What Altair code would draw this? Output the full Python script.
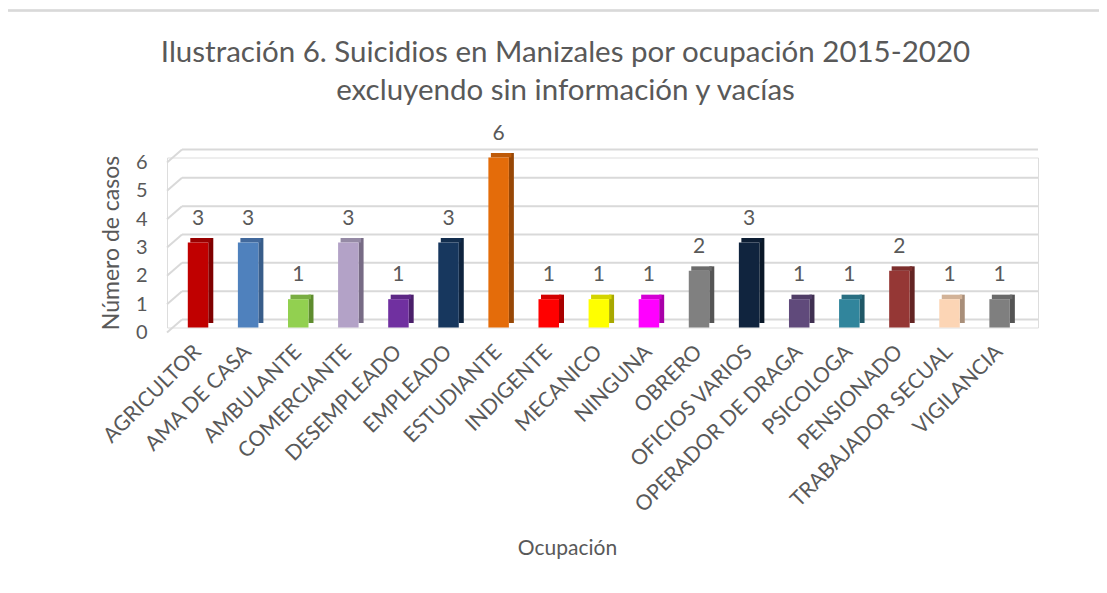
import altair as alt
import pandas as pd

categorias = ["AGRICULTOR", "AMA DE CASA", "AMBULANTE", "COMERCIANTE", "DESEMPLEADO",
              "EMPLEADO", "ESTUDIANTE", "INDIGENTE", "MECANICO", "NINGUNA", "OBRERO",
              "OFICIOS VARIOS", "OPERADOR DE DRAGA", "PSICOLOGA", "PENSIONADO",
              "TRABAJADOR SECUAL", "VIGILANCIA"]
casos = [3, 3, 1, 3, 1, 3, 6, 1, 1, 1, 2, 3, 1, 1, 2, 1, 1]
colores_frente = ["#C00000", "#4F81BD", "#92D050", "#B3A2C7", "#7030A0", "#17375E",
                  "#E46C0A", "#FF0000", "#FFFF00", "#FF00FF", "#808080", "#10243E",
                  "#604A7B", "#31859C", "#953735", "#FCD5B5", "#7F7F7F"]
colores_lado = ["#7F0000", "#385D8A", "#5E8C2E", "#776B85", "#4A1F6A", "#0F243E",
                "#974706", "#A80000", "#A8A800", "#A800A8", "#555555", "#0A1828",
                "#3F3051", "#205867", "#632423", "#A88E79", "#545454"]
colores_arriba = ["#9A0000", "#42699C", "#79AD42", "#958AA5", "#5C2785", "#132E4E",
                  "#BE5A08", "#D40000", "#D4D400", "#D400D4", "#6B6B6B", "#0D1E34",
                  "#503D66", "#296F82", "#7C2E2C", "#D2B297", "#6A6A6A"]
ticks_y = [0, 1, 2, 3, 4, 5, 6]

titulo = ["Ilustración 6. Suicidios en Manizales por ocupación 2015-2020",
          "excluyendo sin información y vacías"]

df = pd.DataFrame({"ocupacion": categorias, "casos": casos})
df_ticks = pd.DataFrame({"v": ticks_y})

FONT = "Lato"
GRIS = "#595959"
W, H = 871, 170

xscale = alt.Scale(domain=categorias, paddingInner=0, paddingOuter=0.193, align=0.31)
yscale = alt.Scale(domain=[0, 6], nice=False)

x_axis = alt.Axis(title="Ocupación", labelAngle=-45, labelAlign="right",
                  labelBaseline="middle", labelPadding=21, ticks=False,
                  domain=False, grid=False, labelFont=FONT, labelFontSize=21,
                  labelLimit=400, labelColor=GRIS, labelOverlap=False, titleFont=FONT,
                  titleFontSize=21, titleColor=GRIS, titleFontWeight="normal",
                  titleX=400, titleY=221, titleBaseline="middle", titleAlign="center")
y_axis = alt.Axis(title="Número de casos", values=ticks_y, ticks=False,
                  domain=False, grid=False, labelPadding=20, labelOffset=5,
                  labelOverlap=False, labelFont=FONT, labelFontSize=20, labelColor=GRIS,
                  titleFont=FONT, titleFontSize=23, titleColor=GRIS,
                  titleFontWeight="normal", titleX=-56, titleY=H / 2,
                  titleBaseline="middle", titleAlign="center", titleAngle=-90)

x_enc = alt.X("ocupacion:N", sort=categorias, scale=xscale, axis=x_axis)
y_enc = alt.Y("casos:Q", scale=yscale, axis=y_axis)

base = alt.Chart(df)

grid = alt.Chart(df_ticks).mark_rule(color="#D9D9D9", strokeWidth=2, yOffset=-8).encode(
    y=alt.Y("v:Q", scale=yscale, axis=y_axis),
    x=alt.value(15), x2=alt.value(W),
)
diag = alt.Chart(df_ticks).mark_rule(color="#D9D9D9", strokeWidth=2, yOffset=5,
                                     y2Offset=-8).encode(
    y=alt.Y("v:Q", scale=yscale, axis=y_axis), y2="v:Q",
    x=alt.value(0), x2=alt.value(15),
)

lado = base.mark_bar(size=5, xOffset=12.75, yOffset=-4.5, y2Offset=-4.5).encode(
    x=x_enc, y=y_enc, y2=alt.datum(0),
    color=alt.Color("ocupacion:N", scale=alt.Scale(domain=categorias, range=colores_lado),
                    legend=None),
)
arriba = base.mark_bar(size=20.5, xOffset=2.5, y2Offset=-4.5).encode(
    x=x_enc, y=y_enc, y2="casos:Q",
    color=alt.Color("ocupacion:N", scale=alt.Scale(domain=categorias, range=colores_arriba),
                    legend=None),
)
frente = base.mark_bar(size=20.5).encode(
    x=x_enc, y=y_enc, y2=alt.datum(0),
    color=alt.Color("ocupacion:N", scale=alt.Scale(domain=categorias, range=colores_frente),
                    legend=None),
)
etiquetas = base.mark_text(font=FONT, fontSize=21, color=GRIS, dy=-18,
                           baseline="alphabetic").encode(
    x=x_enc, y=y_enc, text="casos:Q",
)

borde_sup = alt.Chart(df_ticks).mark_rule(color="#D9D9D9", strokeWidth=1.5).encode(
    x=alt.value(-161), x2=alt.value(W + 100), y=alt.value(-147))
borde_izq = alt.Chart(df_ticks).mark_rule(color="#D9D9D9", strokeWidth=1.5).encode(
    x=alt.value(-161), y=alt.value(-147), y2=alt.value(H + 300))

chart = alt.layer(borde_sup, borde_izq, grid, diag, lado, arriba, frente, etiquetas).resolve_scale(
    color="independent"
).properties(
    width=W, height=H,
    title=alt.TitleParams(titulo, font=FONT, fontSize=29.5, fontWeight="normal", color=GRIS,
                          anchor="middle", dx=-37, offset=-97, lineHeight=38),
    autosize=alt.AutoSizeParams(type="none"),
    padding={"left": 159, "top": 149.5, "right": 61, "bottom": 255},
).configure_view(stroke=None).configure(background="white")

chart.save("out.html", embed_options={"renderer": "svg", "actions": False})
